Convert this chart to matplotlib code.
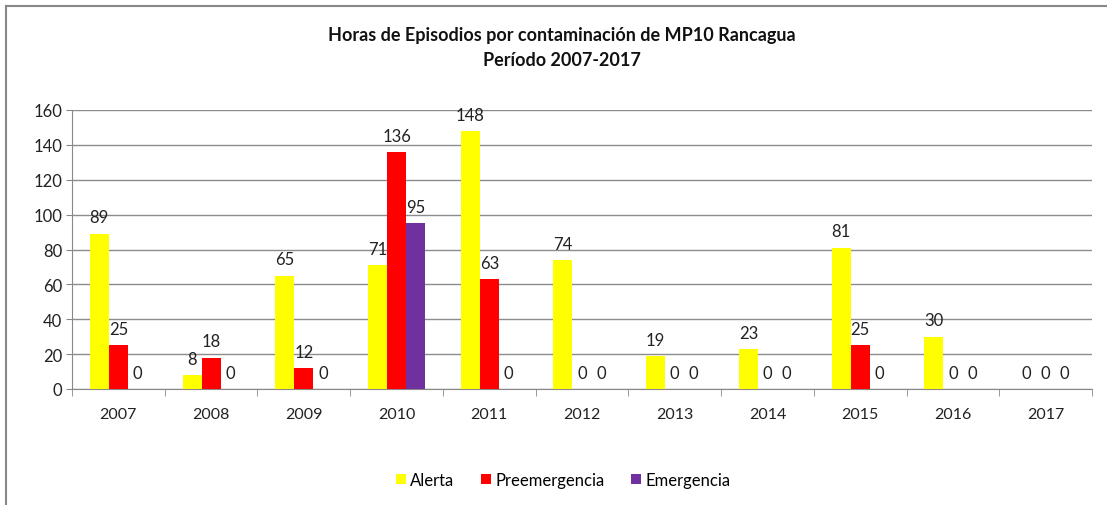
import matplotlib
matplotlib.use("Agg")
import matplotlib.pyplot as plt
import numpy as np
from matplotlib.lines import Line2D

years = ["2007", "2008", "2009", "2010", "2011", "2012", "2013", "2014", "2015", "2016", "2017"]
alerta = [89, 8, 65, 71, 148, 74, 19, 23, 81, 30, 0]
preemergencia = [25, 18, 12, 136, 63, 0, 0, 0, 25, 0, 0]
emergencia = [0, 0, 0, 95, 0, 0, 0, 0, 0, 0, 0]
series_names = ["Alerta", "Preemergencia", "Emergencia"]
colors = ["#FFFF00", "#FF0000", "#7030A0"]
yticks = [0, 20, 40, 60, 80, 100, 120, 140, 160]

plt.rcParams['font.family'] = ['Lato', 'DejaVu Sans']

W, H = 1107, 506
fig = plt.figure(figsize=(W / 100, H / 100), dpi=100)
ax = fig.add_axes([72 / W, 1 - 390 / H, (1092 - 72) / W, (390 - 111) / H])

x = np.arange(len(years))
bw = 0.205
series = [alerta, preemergencia, emergencia]
for i, (vals, c, name) in enumerate(zip(series, colors, series_names)):
    pos = x + (i - 1) * bw
    ax.bar(pos, vals, width=bw, color=c, label=name, zorder=3)
    for p, v in zip(pos, vals):
        ax.annotate(str(v), (p, v), xytext=(0, 6), textcoords="offset points",
                    ha="center", va="bottom", fontsize=12, color="#222222", zorder=4)

ax.set_xlim(-0.5, len(years) - 0.5)
ax.set_ylim(0, 160)
ax.set_yticks(yticks)
ax.set_yticklabels([str(t) for t in yticks], fontsize=12, color="#222222")
ax.set_xticks(x)
ax.set_xticklabels(years, fontsize=11.5, color="#222222")
ax.tick_params(axis="x", length=0, pad=13)
ax.tick_params(axis="y", length=4, color="#888888", pad=3)
ax.set_xticks(np.arange(-0.5, len(years)), minor=True)
ax.tick_params(axis="x", which="minor", length=5, color="#888888")
ax.grid(axis="y", color="#8c8c8c", linewidth=1.0, zorder=0)
for s in ["top", "right"]:
    ax.spines[s].set_visible(False)
ax.spines["left"].set_color("#888888")
ax.spines["bottom"].set_color("#888888")

fig.text(562 / W, 1 - 36 / H, "Horas de Episodios por contaminación de MP10 Rancagua",
         ha="center", va="center", fontsize=13, fontweight="bold", color="#111111")
fig.text(562 / W, 1 - 60 / H, "Período 2007-2017",
         ha="center", va="center", fontsize=13, fontweight="bold", color="#111111")

fig.legend(loc="center", bbox_to_anchor=(563 / W, 1 - 481 / H), ncol=3, frameon=False,
           fontsize=12, handlelength=0.6, handleheight=0.6, handletextpad=0.25,
           columnspacing=1.6)

fig.add_artist(Line2D([6 / W, 1.0], [1 - 7 / H, 1 - 7 / H], color="#888888", lw=1.5,
                      transform=fig.transFigure))
fig.add_artist(Line2D([6 / W, 6 / W], [0, 1 - 7 / H], color="#888888", lw=1.5,
                      transform=fig.transFigure))

fig.savefig("out.png", dpi=100)
